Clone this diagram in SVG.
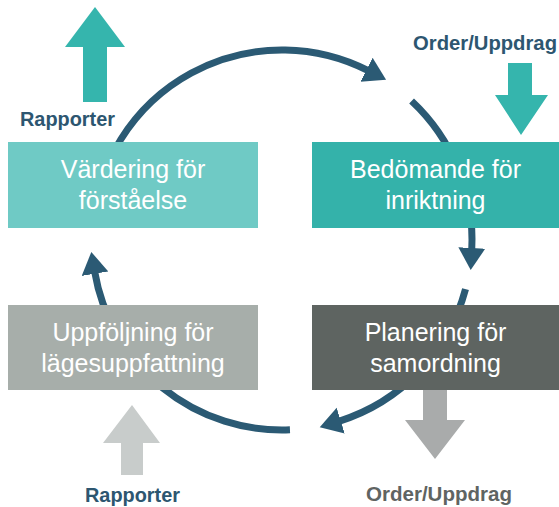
<svg xmlns="http://www.w3.org/2000/svg" width="559" height="507" viewBox="0 0 559 507">
<style>
.cyc{fill:none;stroke:#2b5a74;stroke-width:7}
.bt{font-family:"Liberation Sans",Arial,sans-serif;font-size:25px;fill:#ffffff;text-anchor:middle}
.lb{font-family:"Liberation Sans",Arial,sans-serif;font-size:19.5px;font-weight:bold}
</style>
<defs>
<marker id="ah" markerUnits="userSpaceOnUse" markerWidth="30" markerHeight="30" refX="2" refY="13.5" orient="auto">
<path d="M0,0 L22,13.5 L0,27 z" fill="#2b5a74"/>
</marker>
</defs>
<rect width="559" height="507" fill="#ffffff"/>
<g id="connectors">
<path class="cyc" d="M93.04,220.14 A190,190 0 0 1 368.26,70.71" marker-end="url(#ah)"/>
<path class="cyc" d="M411.58,101.03 A190,190 0 0 1 471.74,249.94" marker-end="url(#ah)"/>
<path class="cyc" d="M465.52,289.17 A190,190 0 0 1 338.81,421.30" marker-end="url(#ah)"/>
<path class="cyc" d="M289.96,429.83 A190,190 0 0 1 94.66,271.69" marker-end="url(#ah)"/>
</g>
<g id="vardering">
<rect x="8" y="142" width="250" height="86" fill="#6fcac5"/>
<text class="bt" x="133" y="178">Värdering för</text>
<text class="bt" x="133" y="209">förståelse</text>
</g>
<g id="bedomande">
<rect x="312" y="142" width="247" height="86" fill="#34b2aa"/>
<text class="bt" x="435.5" y="178">Bedömande för</text>
<text class="bt" x="435.5" y="209">inriktning</text>
</g>
<g id="uppfoljning">
<rect x="8" y="305" width="250" height="85" fill="#a7aeaa"/>
<text class="bt" x="133" y="341">Uppföljning för</text>
<text class="bt" x="133" y="372">lägesuppfattning</text>
</g>
<g id="planering">
<rect x="312" y="305" width="247" height="85" fill="#5e6461"/>
<text class="bt" x="435.5" y="341">Planering för</text>
<text class="bt" x="435.5" y="372">samordning</text>
</g>
<g id="rapporter-top">
<polygon points="95,7 125,47 107,47 107,102 83,102 83,47 65,47" fill="#35b5ad"/>
<text class="lb" x="20" y="126" fill="#2d5670" textLength="95" lengthAdjust="spacingAndGlyphs">Rapporter</text>
</g>
<g id="order-top">
<polygon points="508,63 532,63 532,95 548,95 521,135 495,95 508,95" fill="#35b5ad"/>
<text class="lb" x="413" y="50" fill="#2d5670" textLength="144" lengthAdjust="spacingAndGlyphs">Order/Uppdrag</text>
</g>
<g id="rapporter-bottom">
<polygon points="132,405 160,443 143,443 143,475 121,475 121,443 103,443" fill="#c8cccb"/>
<text class="lb" x="85" y="502" fill="#2d5670" textLength="95" lengthAdjust="spacingAndGlyphs">Rapporter</text>
</g>
<g id="order-bottom">
<polygon points="423,390 447,390 447,420 465,420 435,459 405,420 423,420" fill="#a9abab"/>
<text class="lb" x="366" y="501" fill="#5f6462" textLength="146" lengthAdjust="spacingAndGlyphs">Order/Uppdrag</text>
</g>
</svg>
